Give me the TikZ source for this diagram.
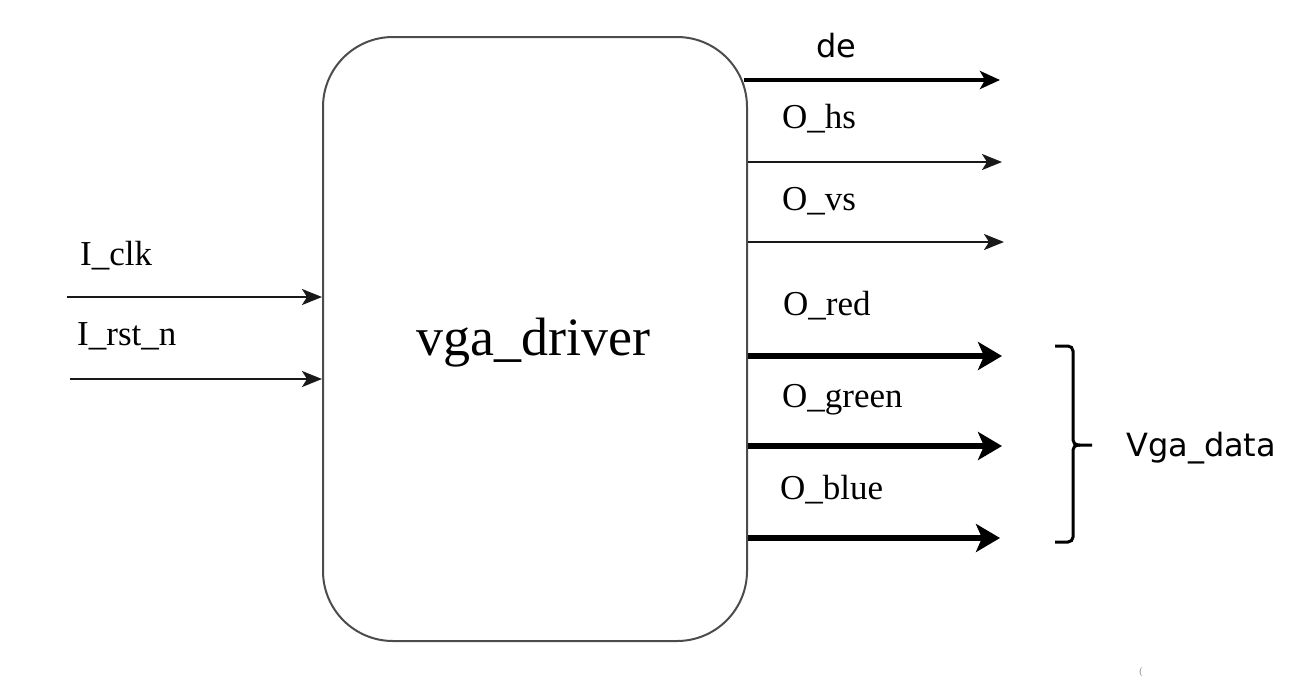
\documentclass[tikz,border=0pt]{standalone}
\usepackage{fontspec}
\setmainfont{Liberation Serif}
\newfontfamily\sansf{DejaVu Sans}
\usetikzlibrary{arrows.meta}
\tikzset{
  blk/.style={draw=black!70, line width=2pt, rounded corners=70pt, minimum width=424pt, minimum height=604pt, inner sep=0pt},
  thin/.style={draw=black!90, line width=2.2pt, -{Stealth[length=20pt,width=16pt,inset=5pt]}},
  thick/.style={draw=black, line width=6pt, -{Stealth[length=24pt,width=28pt,inset=6pt]}},
  lbl/.style={font=\fontsize{35}{40}\selectfont, anchor=base west, inner sep=0pt},
  slbl/.style={font=\sansf\fontsize{32}{36}\selectfont, inner sep=0pt},
}
\begin{document}
\begin{tikzpicture}[x=1pt,y=-1pt]
\useasboundingbox (0,0) rectangle (1300,691);
\node[blk] (box) at (535,339) {};
\node[font=\fontsize{54}{60}\selectfont, anchor=base, inner sep=0pt] (title) at (533,355) {vga\_driver};
% inputs
\coordinate (clkS) at (67,297);
\coordinate (rstS) at (70,379);
\draw[thin] (clkS) -- (clkS -| box.west);
\draw[thin] (rstS) -- (rstS -| box.west);
\node[lbl] (lclk) at (80,265) {I\_clk};
\node[lbl] (lrst) at (77,345) {I\_rst\_n};
% outputs
\coordinate (deE) at (1000,80);
\coordinate (hsE) at (1002,162);
\coordinate (vsE) at (1004,242);
\coordinate (redE) at (1002,356);
\coordinate (greenE) at (1002,446);
\coordinate (blueE) at (1000,538);
\draw[draw=black, line width=4.5pt, -{Stealth[length=20pt,width=18pt,inset=5pt]}] (744,80) -- (deE);
\draw[thin] (hsE -| box.east) -- (hsE);
\draw[thin] (vsE -| box.east) -- (vsE);
\draw[thick] (redE -| box.east) -- (redE);
\draw[thick] (greenE -| box.east) -- (greenE);
\draw[thick] (blueE -| box.east) -- (blueE);
\node[slbl, anchor=base] (lde) at (836,57) {de};
\node[lbl] (lhs) at (782,128) {O\_hs};
\node[lbl] (lvs) at (782,210) {O\_vs};
\node[lbl] (lred) at (783,315) {O\_red};
\node[lbl] (lgreen) at (782,407) {O\_green};
\node[lbl] (lblue) at (780,499) {O\_blue};
% brace
\coordinate (brT) at (1055,346);
\coordinate (brB) at (1055,542);
\coordinate (brTip) at (1092,445);
\draw[line width=3pt, rounded corners=5pt] (brT) -- (1073,346) -- (1073,445) -- (brTip);
\draw[line width=3pt, rounded corners=5pt] (1080,445) -- (1073,445) -- (1073,542) -- (brB);
\node[slbl, anchor=base west] (lvga) at (1126,456) {Vga\_data};
\node[font=\fontsize{10}{12}\selectfont, text=black!45, inner sep=0pt] (mark) at (1141,672) {(};
\end{tikzpicture}
\end{document}
